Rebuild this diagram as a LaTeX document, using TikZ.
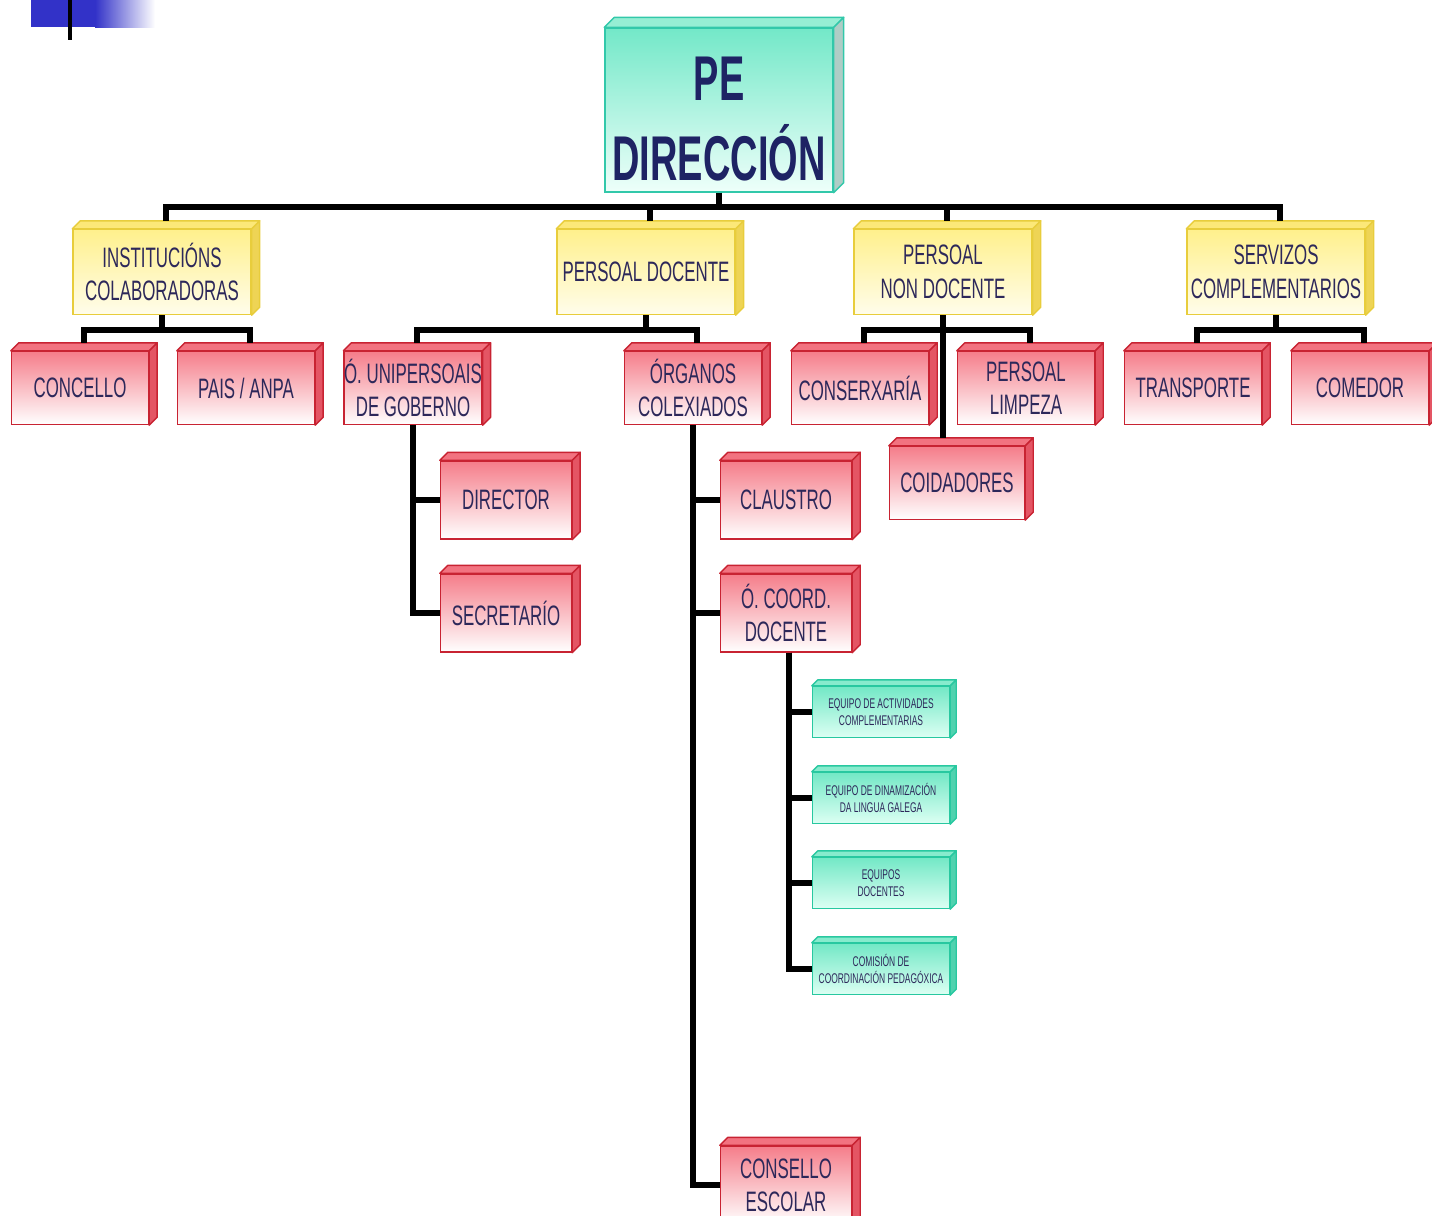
\documentclass[tikz,border=0pt]{standalone}
\usepackage{fontspec}
\setmainfont{Liberation Sans}[FakeStretch=0.6]
\usetikzlibrary{calc}
\definecolor{txt}{RGB}{45,40,90}
\definecolor{petxt}{RGB}{30,35,100}
\definecolor{redB}{RGB}{200,35,50}
\definecolor{redT}{RGB}{245,125,138}
\definecolor{redTop}{RGB}{242,115,128}
\definecolor{redSide}{RGB}{228,85,100}
\definecolor{yelB}{RGB}{232,205,60}
\definecolor{yelT}{RGB}{255,240,140}
\definecolor{yelBot}{RGB}{255,253,235}
\definecolor{yelTop}{RGB}{252,232,120}
\definecolor{yelSide}{RGB}{238,212,85}
\definecolor{tealB}{RGB}{40,200,160}
\definecolor{tealT}{RGB}{115,232,198}
\definecolor{tealBot}{RGB}{220,255,243}
\definecolor{tealTop}{RGB}{135,235,205}
\definecolor{tealSide}{RGB}{80,210,175}
\definecolor{peB}{RGB}{50,200,170}
\definecolor{peT}{RGB}{115,232,200}
\definecolor{peBot}{RGB}{238,255,250}
\definecolor{peTop}{RGB}{150,238,212}
\definecolor{peSide}{RGB}{175,205,198}
\definecolor{deco}{RGB}{50,50,200}
\newcommand\boxfaces[5]{%
  \draw[draw=#5, line width=0.8pt, fill=#3, line join=round]
    (#1.north west) -- ++(#2,-#2) -- ($(#1.north east)+(#2,-#2)$) -- (#1.north east) -- cycle;
  \draw[draw=#5, line width=0.8pt, fill=#4, line join=round]
    (#1.north east) -- ++(#2,-#2) -- ($(#1.south east)+(#2,-#2)$) -- (#1.south east) -- cycle;}
\tikzset{
  base/.style={draw, line width=0.8pt, inner sep=0pt, align=center, text=txt,
    font=\fontsize{16}{19}\selectfont},
  redbox/.style={base, draw=redB, top color=redT, bottom color=white,
    minimum width=2.74cm, minimum height=1.46cm},
  subbox/.style={redbox, minimum width=2.62cm, minimum height=1.56cm},
  yelbox/.style={base, draw=yelB, top color=yelT, bottom color=yelBot,
    minimum width=3.56cm, minimum height=1.7cm},
  tealbox/.style={base, draw=tealB, top color=tealT, bottom color=tealBot,
    minimum width=2.74cm, minimum height=1.02cm, font=\fontsize{8}{9.5}\selectfont},
  pebox/.style={base, draw=peB, top color=peT, bottom color=peBot,
    minimum width=4.56cm, minimum height=3.28cm, text=petxt,
    font=\fontsize{36}{46}\selectfont\bfseries},
  conn/.style={line width=3.3pt, draw=black}
}
\begin{document}
\begin{tikzpicture}[x=0.02cm, y=-0.02cm]
\useasboundingbox (0,0) rectangle (1432,1215);
\clip (0,0) rectangle (1432,1215);
% decoration top-left
\fill[deco] (31,0) rectangle (95,27);
\shade[left color=deco, right color=white] (95,0) rectangle (155,27);
\draw[line width=2.3pt] (70,0) -- (70,40);

% nodes
\node[pebox] (pe) at (719,110) {\rule{0pt}{35pt}PE\\DIRECCIÓN};
\node[yelbox] (inst) at (162,272) {INSTITUCIÓNS\\COLABORADORAS};
\node[yelbox] (pdoc) at (646,272) {PERSOAL DOCENTE};
\node[yelbox] (ndoc) at (943,272) {PERSOAL\\NON DOCENTE};
\node[yelbox] (serv) at (1276,272) {SERVIZOS\\COMPLEMENTARIOS};

\node[redbox] (conc) at (80,388) {CONCELLO};
\node[redbox] (pais) at (246,388) {PAIS / ANPA};
\node[redbox] (uni) at (413,388) {Ó. UNIPERSOAIS\\DE GOBERNO};
\node[redbox] (org) at (693,388) {ÓRGANOS\\COLEXIADOS};
\node[redbox] (consx) at (860,388) {CONSERXARÍA};
\node[redbox] (limp) at (1026,388) {PERSOAL\\LIMPEZA};
\node[redbox] (trans) at (1193,388) {TRANSPORTE};
\node[redbox] (com) at (1360,388) {COMEDOR};
\node[redbox, minimum width=2.7cm] (coid) at (957,483) {COIDADORES};

\node[subbox] (dir) at (506,500) {DIRECTOR};
\node[subbox] (sec) at (506,613) {SECRETARÍO};
\node[subbox] (cla) at (786,500) {CLAUSTRO};
\node[subbox] (coord) at (786,613) {Ó. COORD.\\DOCENTE};
\node[subbox] (cesc) at (786,1185) {CONSELLO\\ESCOLAR};

\node[tealbox] (t1) at (881,712) {EQUIPO DE ACTIVIDADES\\COMPLEMENTARIAS};
\node[tealbox] (t2) at (881,798) {EQUIPO DE DINAMIZACIÓN\\DA LINGUA GALEGA};
\node[tealbox] (t3) at (881,883) {EQUIPOS\\DOCENTES};
\node[tealbox] (t4) at (881,969) {COMISIÓN DE\\COORDINACIÓN PEDAGÓXICA};

% 3D faces
\boxfaces{pe}{10}{peTop}{peSide}{peB}
\foreach \n in {inst,pdoc,ndoc,serv}{\boxfaces{\n}{8}{yelTop}{yelSide}{yelB}}
\foreach \n in {conc,pais,uni,org,consx,limp,trans,com,coid,dir,sec,cla,coord,cesc}{\boxfaces{\n}{8}{redTop}{redSide}{redB}}
\foreach \n in {t1,t2,t3,t4}{\boxfaces{\n}{6}{tealTop}{tealSide}{tealB}}

% top-face centres
\foreach \n in {inst,pdoc,ndoc,serv,conc,pais,uni,org,consx,limp,trans,com,coid}{
  \coordinate (\n-t) at ($(\n.north)+(4,-8)$);}

% connectors
\coordinate (bus) at (719,207);
\draw[conn] (pe.south) -- (bus);
\draw[conn] (inst-t) |- (bus) -| (serv-t);
\draw[conn] (pdoc-t) -- (pdoc-t |- bus);
\draw[conn] (ndoc-t) -- (ndoc-t |- bus);

\draw[conn] (inst.south) -- ++(0,15) coordinate (inst-b);
\draw[conn] (conc-t) |- (inst-b) -| (pais-t);
\draw[conn] (pdoc.south) -- ++(0,15) coordinate (pdoc-b);
\draw[conn] (uni-t) |- (pdoc-b) -| (org-t);
\draw[conn] (ndoc.south) -- ++(0,15) coordinate (ndoc-b);
\draw[conn] (consx-t) |- (ndoc-b) -| (limp-t);
\draw[conn] (ndoc.south) -- (ndoc.south |- coid-t);
\draw[conn] (serv.south) -- ++(0,15) coordinate (serv-b);
\draw[conn] (trans-t) |- (serv-b) -| (com-t);

\draw[conn] (uni.south) |- (dir.west);
\draw[conn] (uni.south) |- (sec.west);
\draw[conn] (org.south) |- (cla.west);
\draw[conn] (org.south) |- (coord.west);
\draw[conn] (org.south) |- (cesc.west);
\foreach \n in {t1,t2,t3,t4}{\draw[conn] ($(coord.south)+(3,0)$) |- (\n.west);}
\end{tikzpicture}
\end{document}
